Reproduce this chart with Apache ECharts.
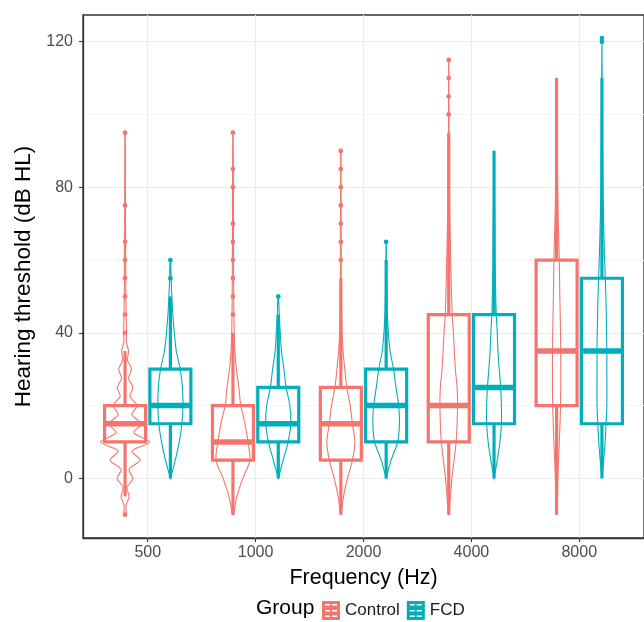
<!DOCTYPE html>
<html><head><meta charset="utf-8">
<script src="https://cdn.jsdelivr.net/npm/echarts@6/dist/echarts.min.js"></script>
<style>html,body{margin:0;padding:0;background:#fff}#c{width:644px;height:622px}</style>
</head><body><div id="c"></div>
<script>
const frequencies = ['500', '1000', '2000', '4000', '8000'];
const groups = ['Control', 'FCD'];
const yMajorTicks = [0, 40, 80, 120];
const yMinorTicks = [20, 60, 100];

// [lower whisker, Q1, median, Q3, upper whisker] per frequency
const controlBoxes = [[-5, 10, 15, 20, 35], [-10, 5, 10, 20, 40], [-10, 5, 15, 25, 55], [-10, 10, 20, 45, 95], [-10, 20, 35, 60, 110]];
const fcdBoxes = [[0, 15, 20, 30, 50], [0, 10, 15, 25, 45], [0, 10, 20, 30, 60], [0, 15, 25, 45, 90], [0, 15, 35, 55, 110]];

// outlier values per frequency
const controlOutliers = [[-10, 40, 45, 50, 55, 60, 65, 75, 95], [45, 50, 55, 60, 65, 70, 80, 85, 95], [60, 65, 70, 75, 80, 85, 90], [100, 105, 110, 115], []];
const fcdOutliers = [[55, 60], [50], [65], [], [120, 121]];

// violin densities: [threshold, relative density]
const controlViolin500 = [[-10, .04], [-7.5, .04], [-5, .16], [-2.5, .08], [0, .32], [2.5, .16], [5, .61], [7.5, .28], [10, 1], [12.5, .36], [15, .65], [17.5, .28], [20, .49], [22.5, .2], [25, .32], [27.5, .14], [30, .26], [32.5, .1], [35, .14], [37.5, .05], [40, .06], [50, .03], [60, .025], [75, .016], [95, .01]];
const controlViolin1000 = [[-10, .02], [-5, .16], [0, .4], [5, .69], [10, .61], [15, .49], [20, .32], [25, .24], [30, .14], [35, .08], [40, .05], [50, .03], [70, .02], [95, .01]];
const controlViolin2000 = [[-10, .01], [-5, .11], [0, .27], [5, .47], [10, .57], [15, .47], [20, .38], [25, .24], [30, .16], [35, .09], [40, .05], [45, .03], [55, .016], [90, .008]];
const controlViolin4000 = [[-10, .01], [0, .13], [10, .3], [20, .36], [25, .34], [30, .27], [40, .19], [45, .14], [60, .08], [70, .05], [80, .03], [95, .01], [115, .004]];
const controlViolin8000 = [[-10, .01], [0, .05], [10, .11], [20, .16], [30, .17], [40, .16], [50, .13], [60, .11], [70, .07], [80, .04], [90, .03], [110, .004]];
const fcdViolin500 = [[0, 0], [5, .2], [10, .36], [15, .47], [20, .51], [25, .49], [30, .4], [35, .24], [40, .16], [45, .1], [50, .06], [55, .03], [60, .01]];
const fcdViolin1000 = [[0, 0], [5, .2], [10, .4], [15, .51], [20, .47], [25, .32], [30, .23], [35, .13], [40, .08], [45, .04], [50, .01]];
const fcdViolin2000 = [[0, 0], [5, .2], [10, .47], [15, .54], [20, .51], [25, .4], [30, .3], [35, .16], [40, .09], [45, .05], [50, .03], [55, .016], [65, .004]];
const fcdViolin4000 = [[0, 0], [5, .13], [10, .24], [15, .3], [20, .3], [25, .27], [30, .21], [35, .16], [40, .13], [45, .09], [50, .07], [60, .04], [70, .03], [80, .01], [90, .004]];
const fcdViolin8000 = [[0, 0], [5, .07], [10, .13], [15, .17], [20, .2], [30, .2], [35, .2], [40, .19], [50, .16], [60, .11], [70, .07], [80, .04], [110, .01], [121, 0]];

const controlViolins = [controlViolin500, controlViolin1000, controlViolin2000, controlViolin4000, controlViolin8000];
const fcdViolins = [fcdViolin500, fcdViolin1000, fcdViolin2000, fcdViolin4000, fcdViolin8000];

const FONT = '"Liberation Sans", Arial, Helvetica, sans-serif';
const COLORS = { Control: '#F5756E', FCD: '#00AFBB' };
const DODGE = 0.21, BOX_HALF = 0.19, VIOLIN_HALF = 0.228;
const Y_MIN = -16.4, Y_MAX = 127.35;

function makeSeries(name, boxes, outs, violins, dodge) {
  const color = COLORS[name];
  return {
    type: 'custom', name: name,
    itemStyle: { color: color },
    data: boxes.map((b, i) => [i + 1].concat(b)),
    encode: { x: 0, y: [1, 2, 3, 4, 5] },
    renderItem: function (params, api) {
      const i = params.dataIndex;
      const cx = api.value(0) + dodge;
      const lo = api.value(1), q1 = api.value(2), med = api.value(3), q3 = api.value(4), hi = api.value(5);
      const v = violins[i];
      const pts = v.map(p => api.coord([cx + p[1] * VIOLIN_HALF, p[0]]))
        .concat(v.slice().reverse().map(p => api.coord([cx - p[1] * VIOLIN_HALF, p[0]])));
      const children = [];
      children.push({ type: 'polygon', shape: { points: pts, smooth: 0.3 }, style: { fill: 'none', stroke: color, lineWidth: 1.1 } });
      const pLo = api.coord([cx, lo]), pQ1 = api.coord([cx, q1]), pMed = api.coord([cx, med]), pQ3 = api.coord([cx, q3]), pHi = api.coord([cx, hi]);
      const xl = api.coord([cx - BOX_HALF, 0])[0], xr = api.coord([cx + BOX_HALF, 0])[0];
      children.push({ type: 'line', shape: { x1: pLo[0], y1: pLo[1], x2: pQ1[0], y2: pQ1[1] }, style: { stroke: color, lineWidth: 3.2 } });
      children.push({ type: 'line', shape: { x1: pQ3[0], y1: pQ3[1], x2: pHi[0], y2: pHi[1] }, style: { stroke: color, lineWidth: 3.2 } });
      children.push({ type: 'rect', shape: { x: xl, y: pQ3[1], width: xr - xl, height: pQ1[1] - pQ3[1] }, style: { fill: 'none', stroke: color, lineWidth: 3.2 } });
      children.push({ type: 'line', shape: { x1: xl, y1: pMed[1], x2: xr, y2: pMed[1] }, style: { stroke: color, lineWidth: 5.5 } });
      outs[i].forEach(o => {
        const p = api.coord([cx, o]);
        children.push({ type: 'circle', shape: { cx: p[0], cy: p[1], r: 2.4 }, style: { fill: color } });
      });
      return { type: 'group', children: children };
    }
  };
}

const chart = echarts.init(document.getElementById('c'));
chart.setOption({
  animation: false,
  backgroundColor: '#fff',
  textStyle: { fontFamily: FONT },
  grid: { left: 83, top: 15, width: 563.7, height: 523, show: true, borderColor: '#333', borderWidth: 1.3, backgroundColor: 'transparent' },
  xAxis: {
    type: 'value', min: 0.4, max: 5.6,
    axisLine: { show: true, onZero: false, lineStyle: { color: '#333', width: 1.3 } },
    axisTick: { show: true, inside: false, customValues: [1, 2, 3, 4, 5], length: 4, lineStyle: { color: '#333', width: 1.1 } },
    axisLabel: { customValues: [1, 2, 3, 4, 5], formatter: v => frequencies[Math.round(v) - 1], fontSize: 16, color: '#4D4D4D', margin: 7, fontFamily: FONT },
    splitLine: { show: true, lineStyle: { color: '#EBEBEB', width: 1.1 } },
    name: 'Frequency (Hz)', nameLocation: 'middle', nameGap: 29,
    nameTextStyle: { fontSize: 21.5, color: '#000', fontFamily: FONT }
  },
  yAxis: [{
    type: 'value', min: Y_MIN, max: Y_MAX,
    axisLine: { show: true, onZero: false, lineStyle: { color: '#333', width: 1.3 } },
    axisTick: { show: true, inside: false, customValues: yMajorTicks, length: 4, lineStyle: { color: '#333', width: 1.1 } },
    axisLabel: { customValues: yMajorTicks, fontSize: 16, color: '#4D4D4D', margin: 10, fontFamily: FONT },
    splitLine: { show: true, lineStyle: { color: '#EBEBEB', width: 1.1 } },
    name: 'Hearing threshold (dB HL)', nameLocation: 'middle', nameGap: 48,
    nameTextStyle: { fontSize: 22.5, color: '#000', fontFamily: FONT }
  }, {
    type: 'value', min: Y_MIN, max: Y_MAX, position: 'left',
    axisLine: { show: false, onZero: false },
    axisTick: { show: false, customValues: yMinorTicks },
    axisLabel: { show: false, customValues: yMinorTicks },
    splitLine: { show: true, lineStyle: { color: '#F4F4F4', width: 1 } }
  }],
  legend: {
    data: groups, left: 322, top: 601, itemWidth: 18, itemHeight: 19, itemGap: 7, padding: 0,
    icon: 'path://M0,0H18V19H0Z M3,3V4.5H8V3Z M10,3V4.5H15V3Z M3,9V10.5H8V9Z M10,9V10.5H15V9Z M3,14.5V16H8V14.5Z M10,14.5V16H15V14.5Z',
    textStyle: { fontSize: 17, color: '#1a1a1a', fontFamily: FONT }
  },
  graphic: [{ type: 'text', left: 256, top: 598, style: { text: 'Group', fontSize: 21, fill: '#000', fontFamily: FONT } }],
  series: [
    makeSeries('Control', controlBoxes, controlOutliers, controlViolins, -DODGE),
    makeSeries('FCD', fcdBoxes, fcdOutliers, fcdViolins, DODGE)
  ]
});
</script></body></html>
